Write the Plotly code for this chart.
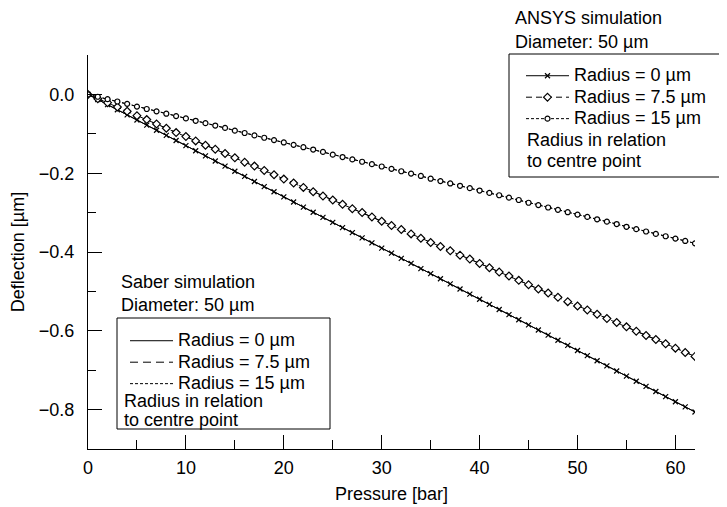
import plotly.graph_objects as go

# ---------------- data ----------------
pressure = list(range(0, 63))

ansys_r0 = [0.000, -0.013, -0.026, -0.039, -0.052, -0.065, -0.078, -0.091, -0.104, -0.117,
            -0.130, -0.143, -0.156, -0.169, -0.182, -0.195, -0.208, -0.221, -0.234, -0.247,
            -0.260, -0.273, -0.286, -0.299, -0.312, -0.325, -0.338, -0.351, -0.364, -0.377,
            -0.390, -0.403, -0.416, -0.429, -0.442, -0.455, -0.468, -0.481, -0.494, -0.507,
            -0.520, -0.533, -0.546, -0.559, -0.572, -0.585, -0.598, -0.611, -0.624, -0.637,
            -0.650, -0.663, -0.676, -0.689, -0.702, -0.715, -0.728, -0.741, -0.754, -0.767,
            -0.780, -0.793, -0.806]
ansys_r75 = [0.000, -0.011, -0.021, -0.032, -0.043, -0.054, -0.064, -0.075, -0.086, -0.097,
             -0.107, -0.118, -0.129, -0.139, -0.150, -0.161, -0.172, -0.182, -0.193, -0.204,
             -0.215, -0.225, -0.236, -0.247, -0.258, -0.268, -0.279, -0.290, -0.300, -0.311,
             -0.322, -0.333, -0.343, -0.354, -0.365, -0.376, -0.386, -0.397, -0.408, -0.418,
             -0.429, -0.440, -0.451, -0.461, -0.472, -0.483, -0.494, -0.504, -0.515, -0.526,
             -0.537, -0.547, -0.558, -0.569, -0.579, -0.590, -0.601, -0.612, -0.622, -0.633,
             -0.644, -0.655, -0.665]
ansys_r15 = [0.000, -0.006, -0.012, -0.018, -0.024, -0.031, -0.037, -0.043, -0.049, -0.055,
             -0.061, -0.067, -0.073, -0.079, -0.085, -0.092, -0.098, -0.104, -0.110, -0.116,
             -0.122, -0.128, -0.134, -0.140, -0.146, -0.153, -0.159, -0.165, -0.171, -0.177,
             -0.183, -0.189, -0.195, -0.201, -0.207, -0.214, -0.220, -0.226, -0.232, -0.238,
             -0.244, -0.250, -0.256, -0.262, -0.268, -0.275, -0.281, -0.287, -0.293, -0.299,
             -0.305, -0.311, -0.317, -0.323, -0.329, -0.336, -0.342, -0.348, -0.354, -0.360,
             -0.366, -0.372, -0.378]

saber_pressure = [0, 10, 20, 30, 40, 50, 62]
saber_r0 = [0.000, -0.130, -0.260, -0.390, -0.520, -0.650, -0.806]
saber_r75 = [0.000, -0.107, -0.215, -0.322, -0.429, -0.537, -0.665]
saber_r15 = [0.000, -0.061, -0.122, -0.183, -0.244, -0.305, -0.378]

series_names = ["Radius = 0 µm", "Radius = 7.5 µm", "Radius = 15 µm"]
x_ticks = [0, 10, 20, 30, 40, 50, 60]
y_ticks = [0.0, -0.2, -0.4, -0.6, -0.8]
y_tick_text = ["0.0", "\u22120.2", "\u22120.4", "\u22120.6", "\u22120.8"]

FONT = "Liberation Sans, Arial, sans-serif"
FS = 18
LEG_FS = 14.2
BLACK = "black"


def big(t):
    return '<span style="font-size:%dpx">%s</span>' % (FS, t)


fig = go.Figure()

# Saber simulation (lines only)
saber_styles = ["solid", "8px,5px", "3px,2px"]
for name, vals, dash in zip(series_names, [saber_r0, saber_r75, saber_r15], saber_styles):
    fig.add_trace(go.Scatter(x=saber_pressure, y=vals, mode="lines", name=big(name),
                             line=dict(color=BLACK, width=1, dash=dash),
                             legend="legend2"))

# ANSYS simulation (lines + markers)
ansys_styles = [("solid", "x-thin", 5, BLACK), ("6px,4px", "diamond", 6, "white"),
                ("3px,2px", "circle", 5, "white")]
for name, vals, (dash, sym, sz, fill) in zip(series_names, [ansys_r0, ansys_r75, ansys_r15],
                                             ansys_styles):
    fig.add_trace(go.Scatter(x=pressure, y=vals, mode="lines+markers", name=big(name),
                             line=dict(color=BLACK, width=1, dash=dash),
                             marker=dict(symbol=sym, size=sz, color=fill,
                                         line=dict(color=BLACK, width=1.2)),
                             legend="legend"))

# page body adds an 8px offset, so the figure is laid out in page pixels minus 8
OFF = 8
L, R, T, B = 88 - OFF, 32, 55 - OFF, 58
W, H = 727 - OFF, 507 - OFF
PW, PH = 695 - 88, 449 - 55


def px(xp):  # page pixel -> paper x
    return (xp - 88) / PW


def py(yp):  # page pixel -> paper y
    return (449 - yp) / PH


legend_common = dict(font=dict(family=FONT, size=LEG_FS, color=BLACK),
                     bgcolor="rgba(0,0,0,0)", borderwidth=0,
                     xanchor="left", yanchor="top", itemwidth=43,
                     tracegroupgap=0, traceorder="normal")

fig.update_layout(
    width=W, height=H,
    margin=dict(l=L, r=R, t=T, b=B, autoexpand=False),
    paper_bgcolor="white", plot_bgcolor="white",
    font=dict(family=FONT, size=FS, color=BLACK),
    showlegend=True,
    legend=dict(x=px(521), y=py(60), **legend_common),
    legend2=dict(x=px(125), y=py(325), **legend_common),
    xaxis=dict(range=[0, 62], showline=True, linecolor=BLACK, linewidth=1,
               showgrid=False, zeroline=False, ticks="inside", ticklen=14,
               tickwidth=1, tickcolor=BLACK, tickvals=x_ticks, automargin=False,
               ticklabelstandoff=2,
               minor=dict(dtick=5, tick0=0, ticks="inside", ticklen=9,
                          tickcolor=BLACK, tickwidth=1, showgrid=False),
               title=dict(text="Pressure [bar]", font=dict(size=FS), standoff=10),
               tickfont=dict(size=FS)),
    yaxis=dict(range=[-0.9, 0.1], showline=True, linecolor=BLACK, linewidth=1,
               showgrid=False, zeroline=False, ticks="inside", ticklen=14,
               tickwidth=1, tickcolor=BLACK, tickvals=y_ticks, ticktext=y_tick_text,
               automargin=False, ticklabelstandoff=9,
               minor=dict(dtick=0.1, tick0=0, ticks="inside", ticklen=8,
                          tickcolor=BLACK, tickwidth=1, showgrid=False),
               title=dict(text="Deflection [µm]", font=dict(size=FS), standoff=14),
               tickfont=dict(size=FS)),
)

# legend boxes
fig.add_shape(type="rect", xref="paper", yref="paper",
              x0=px(509), x1=px(726), y0=py(177), y1=py(54),
              line=dict(color=BLACK, width=1), fillcolor="rgba(0,0,0,0)")
fig.add_shape(type="rect", xref="paper", yref="paper",
              x0=px(117), x1=px(330), y0=py(429), y1=py(318),
              line=dict(color=BLACK, width=1), fillcolor="rgba(0,0,0,0)")

ann = [
    ("ANSYS simulation", 513, 18),
    ("Diameter: 50 µm", 513, 42),
    ("Radius in relation", 525, 140),
    ("to centre point", 525, 161),
    ("Saber simulation", 119, 282),
    ("Diameter: 50 µm", 119, 305),
    ("Radius in relation", 122, 401),
    ("to centre point", 122, 420),
]
for text, xp, yp in ann:
    fig.add_annotation(text=text, xref="paper", yref="paper", x=px(xp), y=py(yp),
                       xanchor="left", yanchor="middle", showarrow=False,
                       font=dict(family=FONT, size=FS, color=BLACK))

fig.write_html("out.html")
